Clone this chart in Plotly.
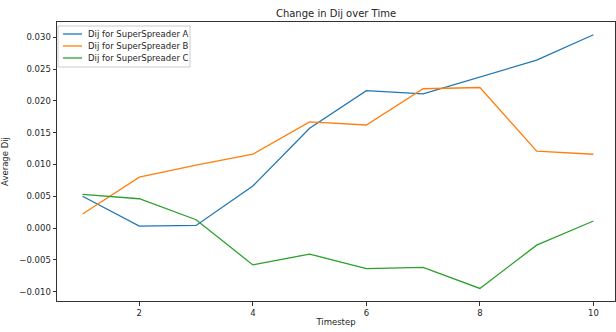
import plotly.graph_objects as go

TIMESTEPS = [1, 2, 3, 4, 5, 6, 7, 8, 9, 10]
DIJ_A = [0.0050, 0.0003, 0.0004, 0.0066, 0.0157, 0.0216, 0.0211, 0.0238, 0.0264, 0.0304]
DIJ_B = [0.0022, 0.0080, 0.0099, 0.0116, 0.0167, 0.0162, 0.0219, 0.0221, 0.0121, 0.0116]
DIJ_C = [0.0053, 0.0046, 0.0013, -0.0058, -0.0041, -0.0064, -0.0062, -0.0095, -0.0027, 0.0011]

SERIES = [
    ("Dij for SuperSpreader A", DIJ_A, "#1f77b4"),
    ("Dij for SuperSpreader B", DIJ_B, "#ff7f0e"),
    ("Dij for SuperSpreader C", DIJ_C, "#2ca02c"),
]

FONT = "DejaVu Sans"
TXT = "#262626"

W, H = 616, 332
ML, MR, MT, MB = 57, 1, 22, 31
PW, PH = W - ML - MR, H - MT - MB


def px_x(p):
    return (p - ML) / PW


def px_y(p):
    return 1 - (p - MT) / PH


fig = go.Figure()
for name, vals, color in SERIES:
    fig.add_trace(go.Scatter(
        x=TIMESTEPS, y=vals, mode="lines", name=name,
        line=dict(color=color, width=1.3), showlegend=False,
    ))

axis_common = dict(
    showgrid=False, zeroline=False, showline=True, linecolor="#333333",
    linewidth=1, mirror=True, ticks="outside", ticklen=3.5, automargin=False,
    tickcolor="#333333", tickfont=dict(size=8.5, color=TXT, family=FONT),
)

fig.update_xaxes(
    range=[0.55, 10.38], tickvals=[2, 4, 6, 8, 10],
    title=dict(text="Timestep", font=dict(size=8.5, color=TXT), standoff=2),
    **axis_common,
)
fig.update_yaxes(
    range=[-0.01148, 0.0324], tickvals=[-0.010, -0.005, 0, 0.005, 0.010, 0.015, 0.020, 0.025, 0.030],
    tickformat=".3f",
    title=dict(text="Average Dij", font=dict(size=8.5, color=TXT), standoff=10),
    **axis_common,
)

# matplotlib-style legend: framed box, short sample lines, tight rows
fig.add_shape(
    type="rect", xref="paper", yref="paper",
    x0=px_x(58), x1=px_x(190), y0=px_y(67), y1=px_y(26),
    line=dict(color="#cccccc", width=1), fillcolor="rgba(255,255,255,0.85)",
    layer="above",
)
legend_rows = [34, 46, 58]
for (name, vals, color), row in zip(SERIES, legend_rows):
    fig.add_shape(
        type="line", xref="paper", yref="paper",
        x0=px_x(63), x1=px_x(82), y0=px_y(row), y1=px_y(row),
        line=dict(color=color, width=1.3), layer="above",
    )
    fig.add_annotation(
        text=name, xref="paper", yref="paper", x=px_x(86), y=px_y(row),
        xanchor="left", yanchor="middle", showarrow=False,
        font=dict(size=8.5, color=TXT, family=FONT),
    )

fig.update_layout(
    width=W, height=H,
    margin=dict(l=ML, r=MR, t=MT, b=MB, autoexpand=False),
    paper_bgcolor="white", plot_bgcolor="white",
    font=dict(family=FONT, size=8.5, color=TXT),
    title=dict(text="Change in Dij over Time", x=0.5, xref="paper", xanchor="center",
               y=1 - 13 / H, yanchor="middle", font=dict(size=10, color=TXT)),
    showlegend=False,
)

# page body has a default 8px margin; drop it so the figure sits at the corner
fig.write_html("out.html", config={"displayModeBar": False},
               post_script="document.body.style.margin='0';")
